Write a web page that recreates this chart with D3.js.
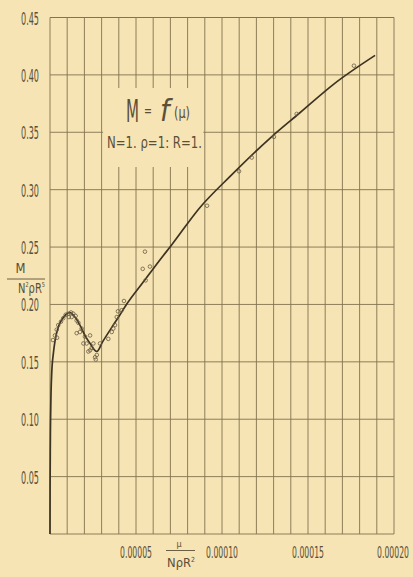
<!DOCTYPE html>
<html>
<head>
<meta charset="utf-8">
<script src="https://cdn.jsdelivr.net/npm/d3@7/dist/d3.min.js"></script>
<style>
  html, body { margin: 0; padding: 0; background: #f6e4b4; }
  svg { display: block; }
  text { font-family: "Liberation Sans Narrow", "DejaVu Sans Condensed", "Liberation Sans", sans-serif; fill: #5b4f38; }
</style>
</head>
<body>
<svg id="chart" width="413" height="577"></svg>
<script>
// Dimensionless moment M/(N²ρR⁵) against μ/(NρR²), with N = 1, ρ = 1, R = 1.

// Faired curve through the measurements
const curveMu = [0, 0.005e-5, 0.02e-5, 0.05e-5, 0.1e-5, 0.2e-5, 0.3e-5, 0.5e-5, 0.7e-5, 0.9e-5,
  1.16e-5, 1.45e-5, 1.74e-5, 2.03e-5, 2.33e-5, 2.72e-5, 3.08e-5, 3.59e-5, 4.07e-5, 4.36e-5,
  5.5e-5, 6.3e-5, 7.08e-5, 8.72e-5, 10.5e-5, 12.8e-5, 14.53e-5, 16.5e-5, 18.9e-5];
const curveM = [0, 0.04, 0.08, 0.115, 0.14, 0.158, 0.169, 0.181, 0.187, 0.191,
  0.193, 0.189, 0.182, 0.173, 0.166, 0.159, 0.168, 0.180, 0.191, 0.198,
  0.221, 0.237, 0.252, 0.2845, 0.312, 0.345, 0.367, 0.392, 0.417];

// Individual measurements (open circles)
const pointMu = [0.17e-5, 0.29e-5, 0.39e-5, 0.41e-5, 0.48e-5, 0.64e-5, 0.77e-5, 0.91e-5, 1.06e-5, 1.10e-5,
  1.22e-5, 1.26e-5, 1.35e-5, 1.49e-5, 1.55e-5, 1.55e-5, 1.65e-5, 1.74e-5, 1.84e-5, 1.94e-5,
  2.03e-5, 2.13e-5, 2.23e-5, 2.33e-5, 2.33e-5, 2.42e-5, 2.52e-5, 2.62e-5, 2.66e-5, 2.72e-5,
  2.91e-5, 3.39e-5, 3.59e-5, 3.68e-5, 3.78e-5, 3.88e-5, 3.95e-5, 4.17e-5, 4.30e-5,
  5.39e-5, 5.52e-5, 5.56e-5, 5.81e-5, 9.13e-5, 10.99e-5, 11.73e-5, 13.02e-5, 14.34e-5, 17.67e-5];
const pointM = [0.169, 0.173, 0.178, 0.171, 0.182, 0.185, 0.188, 0.191, 0.192, 0.189,
  0.193, 0.189, 0.192, 0.190, 0.186, 0.175, 0.184, 0.176, 0.179, 0.166,
  0.172, 0.166, 0.159, 0.173, 0.160, 0.162, 0.166, 0.154, 0.152, 0.156,
  0.166, 0.170, 0.176, 0.179, 0.182, 0.189, 0.194, 0.195, 0.203,
  0.231, 0.246, 0.221, 0.233, 0.286, 0.316, 0.328, 0.346, 0.366, 0.408];

// Axis ticks
const xGridTicks = d3.range(0, 21).map(i => i * 1e-5);
const yGridTicks = d3.range(0, 10).map(i => i * 0.05);
const xTickValues = [0.00005, 0.00010, 0.00015, 0.00020];
const xTickLabels = ["0.00005", "0.00010", "0.00015", "0.00020"];
const yTickValues = [0.05, 0.10, 0.15, 0.20, 0.25, 0.30, 0.35, 0.40, 0.45];
const yTickLabels = ["0.05", "0.10", "0.15", "0.20", "0.25", "0.30", "0.35", "0.40", "0.45"];

const svg = d3.select("#chart");
const x = d3.scaleLinear().domain([0, 0.0002]).range([50, 394]);
const y = d3.scaleLinear().domain([0, 0.45]).range([534, 17.5]);
const ink = "#5b4f38";

// Condensed lettering: each text is drawn at the origin, then moved and
// squeezed horizontally to the given width.
function squeeze(sel, px, py, width) {
  sel.attr("x", 0).attr("y", 0).each(function (d, i) {
    const w = this.getComputedTextLength();
    const tx = typeof px === "function" ? px(d, i) : px;
    const ty = typeof py === "function" ? py(d, i) : py;
    d3.select(this).attr("transform", `translate(${tx},${ty}) scale(${width / w},1)`);
  });
  return sel;
}

svg.append("rect").attr("width", 413).attr("height", 577).attr("fill", "#f6e4b4");

const grid = svg.append("g").attr("stroke", "#6e603f").attr("stroke-width", 0.9).attr("opacity", 0.85);
grid.selectAll("line.v").data(xGridTicks).join("line").attr("class", "v")
  .attr("x1", d => x(d)).attr("x2", d => x(d))
  .attr("y1", y(0.45)).attr("y2", y(0));
grid.selectAll("line.h").data(yGridTicks.concat([0.45])).join("line").attr("class", "h")
  .attr("x1", x(0)).attr("x2", x(0.0002))
  .attr("y1", d => y(d)).attr("y2", d => y(d));

// Clear panel behind the formula
svg.append("rect")
  .attr("x", x(0.3e-4) + 1.5).attr("y", 88)
  .attr("width", x(0.9e-4) - x(0.3e-4) - 3).attr("height", 79)
  .attr("fill", "#f6e4b4");

// Tick labels
squeeze(svg.append("g").selectAll("text").data(yTickValues).join("text")
  .attr("text-anchor", "end").attr("font-size", 17)
  .text((d, i) => yTickLabels[i]), 39, d => y(d) + 7, 18);

squeeze(svg.append("g").selectAll("text").data(xTickValues).join("text")
  .attr("text-anchor", "middle").attr("font-size", 15)
  .text((d, i) => xTickLabels[i]), (d, i) => i === 3 ? x(d) - 1 : x(d), 558, 32);

// Y axis quantity
const yl = svg.append("g");
squeeze(yl.append("text").attr("text-anchor", "middle").attr("font-size", 14).text("M"), 20.5, 273, 10);
yl.append("line").attr("x1", 7).attr("x2", 45).attr("y1", 279).attr("y2", 279)
  .attr("stroke", ink).attr("stroke-width", 0.9);
squeeze(yl.append("text").attr("font-size", 14)
  .html('N<tspan dy="-6" font-size="7">2</tspan><tspan dy="6">ρR</tspan><tspan dy="-6" font-size="7">5</tspan>'),
  18, 293, 27);

// X axis quantity
const xl = svg.append("g");
xl.append("text").attr("x", 179).attr("y", 547).attr("text-anchor", "middle")
  .attr("font-size", 9).text("μ");
xl.append("line").attr("x1", 166).attr("x2", 195).attr("y1", 550.5).attr("y2", 550.5)
  .attr("stroke", ink).attr("stroke-width", 0.9);
squeeze(xl.append("text").attr("font-size", 13)
  .html('NρR<tspan dy="-5" font-size="7">2</tspan>'), 167, 567, 28);

// Formula
const tt = svg.append("g");
squeeze(tt.append("text").attr("font-size", 32).text("M"), 126, 122, 13);
squeeze(tt.append("text").attr("font-size", 15).text("="), 144, 116, 8);
tt.append("text").attr("x", 160).attr("y", 121).attr("font-size", 30)
  .attr("font-style", "italic").attr("font-family", "Liberation Serif, serif").text("f");
squeeze(tt.append("text").attr("font-size", 15).text("(μ)"), 174, 118, 16);
squeeze(tt.append("text").attr("font-size", 15).text("N=1.  ρ=1:  R=1."), 107, 148, 95);

// Faired curve
const line = d3.line().x(d => x(d[0])).y(d => y(d[1])).curve(d3.curveMonotoneX);
svg.append("path").datum(curveMu.map((m, i) => [m, curveM[i]]))
  .attr("d", line).attr("fill", "none")
  .attr("stroke", "#3d3322").attr("stroke-width", 1.7);

// Measurements
svg.append("g").selectAll("circle").data(pointMu.map((m, i) => [m, pointM[i]])).join("circle")
  .attr("cx", d => x(d[0])).attr("cy", d => y(d[1])).attr("r", 1.8)
  .attr("fill", "none").attr("stroke", "#6a5c44").attr("stroke-width", 0.8);
</script>
</body>
</html>
